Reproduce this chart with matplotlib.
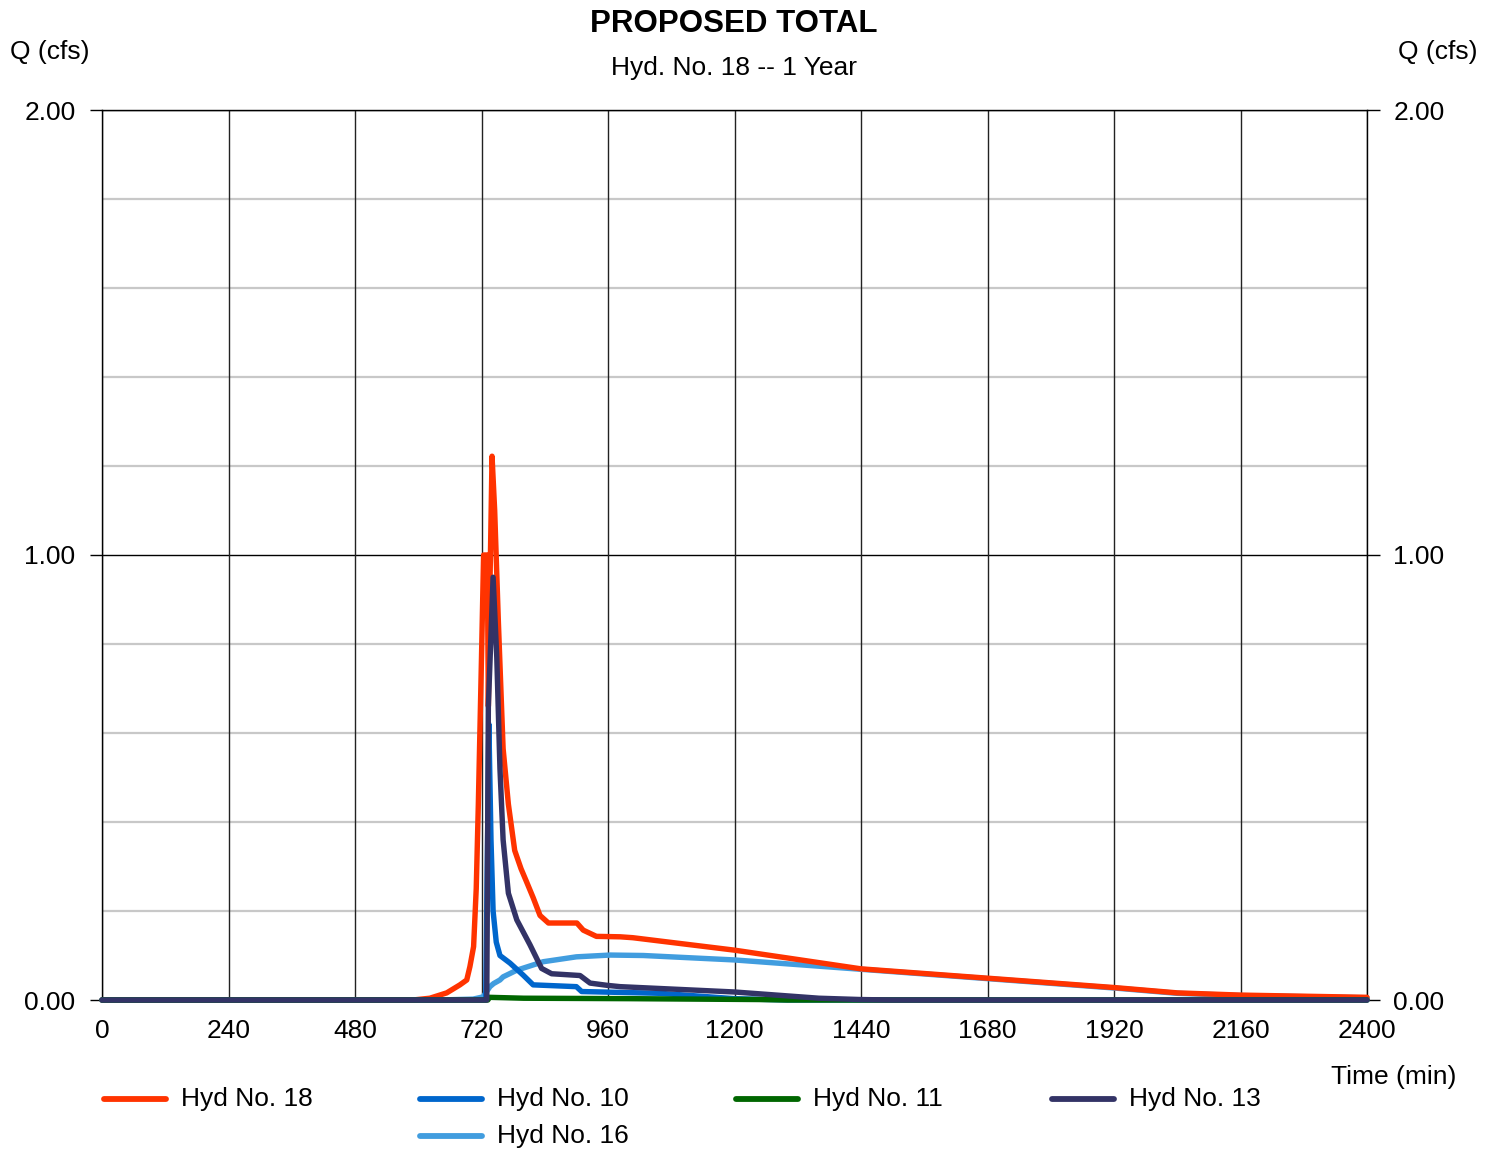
import matplotlib
matplotlib.use("Agg")
import matplotlib.pyplot as plt
from matplotlib.lines import Line2D
import numpy as np

plt.rcParams['font.family'] = ['Liberation Sans', 'DejaVu Sans']

# ---- data (time in min, flow in cfs) ----
t18 = [0, 590, 622, 654, 679, 692, 698, 705, 710, 714, 720, 724, 731, 733, 736, 740, 745, 752,
       761, 771, 783, 795, 805, 818, 831, 847, 901, 913, 938, 983, 1007, 1200, 1440, 1680, 1920,
       2040, 2160, 2400]
q18 = [0, 0, 0.004, 0.016, 0.034, 0.045, 0.075, 0.12, 0.25, 0.44, 0.77, 1.0, 1.0, 0.66, 0.93,
       1.222, 1.10, 0.85, 0.565, 0.44, 0.336, 0.295, 0.267, 0.23, 0.19, 0.173, 0.173, 0.157,
       0.143, 0.142, 0.14, 0.112, 0.07, 0.049, 0.028, 0.016, 0.011, 0.006]

t10 = [0, 728, 734, 738, 742, 748, 755, 774, 799, 818, 900, 910, 1059, 1200, 1300, 2400]
q10 = [0, 0, 0.62, 0.36, 0.2, 0.13, 0.1, 0.083, 0.056, 0.034, 0.03, 0.019, 0.015, 0.003, 0, 0]

t11 = [0, 732, 735, 800, 1000, 1250, 1300, 2400]
q11 = [0, 0, 0.006, 0.004, 0.003, 0.001, 0, 0]

t13 = [0, 730, 733, 742, 749, 755, 761, 771, 787, 812, 834, 853, 907, 926, 958, 983, 1200,
       1360, 1440, 1500, 2400]
q13 = [0, 0, 0.66, 0.95, 0.77, 0.52, 0.36, 0.24, 0.18, 0.124, 0.071, 0.059, 0.055, 0.038,
       0.033, 0.03, 0.018, 0.004, 0.001, 0, 0]

t16 = [0, 640, 704, 723, 736, 743, 755, 761, 787, 837, 900, 964, 1027, 1200, 1440, 1680, 1920,
       2040, 2160, 2400]
q16 = [0, 0, 0.002, 0.007, 0.03, 0.037, 0.045, 0.052, 0.067, 0.086, 0.097, 0.101, 0.100, 0.09,
       0.069, 0.048, 0.027, 0.015, 0.010, 0.005]

xticks = [0, 240, 480, 720, 960, 1200, 1440, 1680, 1920, 2160, 2400]
yticks = [0.0, 1.0, 2.0]
yminor = [0.2, 0.4, 0.6, 0.8, 1.2, 1.4, 1.6, 1.8]

series = [  # name, t, q, color
    ("Hyd No. 18", t18, q18, "#ff3300"),
    ("Hyd No. 10", t10, q10, "#0066cc"),
    ("Hyd No. 11", t11, q11, "#006600"),
    ("Hyd No. 13", t13, q13, "#333366"),
    ("Hyd No. 16", t16, q16, "#419ddf"),
]
draw_order = [4, 0, 1, 2, 3]

W, H = 1496, 1151
fig = plt.figure(figsize=(W / 100, H / 100), dpi=100)
ax = fig.add_axes([102 / W, 1 - 1000 / H, (1367 - 102) / W, (1000 - 110) / H])
ax.set_xlim(0, 2400)
ax.set_ylim(0, 2.0)

for y in yminor:
    ax.axhline(y, color="#c8c8c8", lw=1.6, zorder=1)
for y in yticks:
    ax.axhline(y, color="#000000", lw=1.0, zorder=1.5)
for x in xticks:
    ax.axvline(x, color="#222222", lw=1.0, zorder=1.5)

for i in draw_order:
    name, t, q, c = series[i]
    ax.plot(t, q, color=c, lw=3.9, zorder=3 + draw_order.index(i), solid_capstyle="round",
            solid_joinstyle="round", clip_on=False)

for s in ax.spines.values():
    s.set_color("#000000")
    s.set_linewidth(1.0)
ax.spines["bottom"].set_visible(False)

ax.set_xticks(xticks)
ax.set_xticklabels([str(x) for x in xticks], fontsize=19)
ax.tick_params(axis="x", length=0, pad=14)
ax.set_yticks(yticks)
ax.set_yticklabels([f"{v:.2f}" for v in yticks], fontsize=19)
ax.tick_params(axis="y", which="both", left=True, right=True, labelleft=True, labelright=True,
               direction="out", length=9, width=1, pad=10)

fig.text(734 / W, 1 - 24 / H, "PROPOSED TOTAL", ha="center", va="center", fontsize=22.5,
         fontweight="bold")
fig.text(734 / W, 1 - 68 / H, "Hyd. No. 18 -- 1 Year", ha="center", va="center", fontsize=19)
fig.text(10 / W, 1 - 52 / H, "Q (cfs)", ha="left", va="center", fontsize=19)
fig.text(1478 / W, 1 - 52 / H, "Q (cfs)", ha="right", va="center", fontsize=19)
fig.text(1456 / W, 1 - 1077 / H, "Time (min)", ha="right", va="center", fontsize=19)

# legend (custom layout)
leg_pos = [(102, 1099), (418, 1099), (734, 1099), (1050, 1099), (418, 1136)]
for (name, t, q, c), (lx, ly) in zip(series, leg_pos):
    yy = 1 - ly / H
    fig.add_artist(Line2D([(lx + 2) / W, (lx + 64) / W], [yy, yy], color=c, lw=4.2,
                          solid_capstyle="round"))
    fig.text((lx + 79) / W, yy, name, ha="left", va="center", fontsize=19)

fig.savefig("out.png", dpi=100)
